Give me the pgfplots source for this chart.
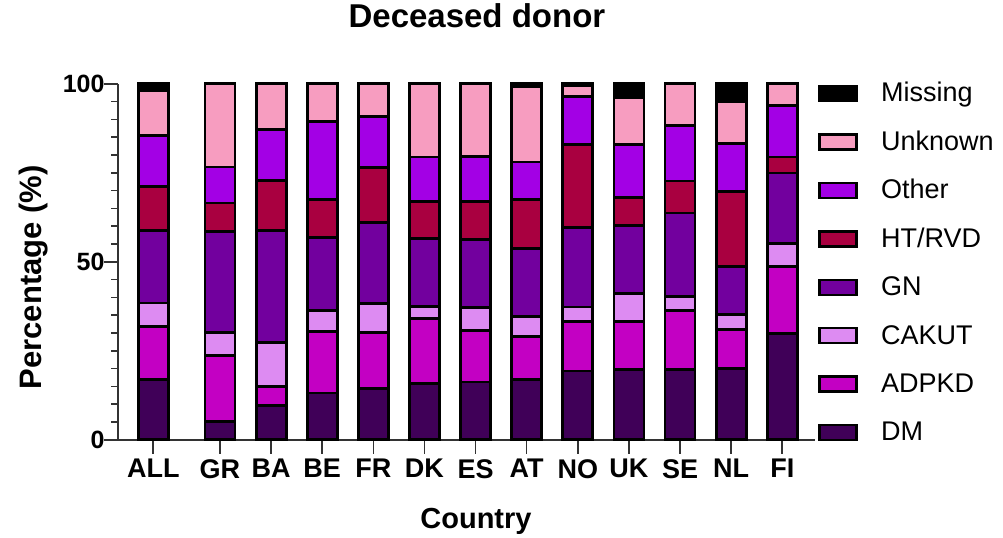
\documentclass[border=0pt]{standalone}
\usepackage{pgfplots}
\pgfplotsset{compat=1.18}
\usepackage{pgfplotstable}
\usepackage{fontspec}
\setmainfont{Liberation Sans}
\definecolor{cDM}{HTML}{400058}
\definecolor{cADPKD}{HTML}{C300C3}
\definecolor{cCAKUT}{HTML}{DD8BF2}
\definecolor{cGN}{HTML}{72009E}
\definecolor{cHT}{HTML}{A90040}
\definecolor{cOther}{HTML}{A300E5}
\definecolor{cUnknown}{HTML}{F79DC0}
\definecolor{cMissing}{HTML}{000000}
\definecolor{axgray}{HTML}{333333}

\pgfplotstableread{
x      DM   ADPKD CAKUT GN   HT   Other Unknown Missing
0      16.9 14.8  6.7   20.4 12.4 14.3  12.6    1.9
1.305  5.2  18.5  6.4   28.5 7.9  10.1  23.4    0
2.305  9.7  5.3   12.2  31.6 14.0 14.3  12.9    0
3.305  13.1 17.3  5.9   20.6 10.5 22.0  10.6    0
4.305  14.3 15.9  8.0   22.9 15.3 14.4  9.2     0
5.305  15.9 18.1  3.5   19.0 10.5 12.4  20.6    0
6.305  16.2 14.5  6.4   19.1 10.8 12.6  20.4    0
7.305  16.9 12.1  5.6   19.1 13.7 10.6  21.2    0.8
8.305  19.3 14.0  4.0   22.4 23.2 13.5  3.1     0.5
9.305  19.7 13.6  7.7   19.2 7.8  14.9  13.2    3.9
10.305 19.7 16.6  4.0   23.4 9.0  15.6  11.7    0
11.305 19.9 11.0  4.3   13.5 21.0 13.6  11.8    4.9
12.305 29.8 18.9  6.4   19.8 4.5  14.5  6.1     0
}\datatable

\pgfplotsset{mylegend/.style={legend image code/.code={%
  \draw[##1,line width=2.4bp] (0bp,-6.2bp) rectangle (36.7bp,8.8bp);
  \path (60bp,0bp);}}}

\begin{document}
\begin{tikzpicture}
\path (-118bp,-94.5bp) rectangle (885bp,436.5bp);
\begin{axis}[
  at={(0,0)}, anchor=south west,
  scale only axis, width=697bp, height=356bp,
  xmin=-0.69, xmax=12.945, ymin=0, ymax=100,
  clip=false,
  ybar stacked, bar width=30bp,
  axis x line*=bottom, axis y line*=left,
  axis line style={draw=axgray, line width=1.6bp, -},
  tick style={draw=axgray, line width=1.6bp},
  tick align=outside,
  major tick length=14bp, minor tick length=7bp,
  xtick={0,1.305,2.305,3.305,4.305,5.305,6.305,7.305,8.305,9.305,10.305,11.305,12.305},
  xticklabels={ALL,GR,BA,BE,FR,DK,ES,AT,NO,UK,SE,NL,FI},
  ytick={0,50,100}, minor y tick num=9,
  /pgf/number format/assume math mode=true,
  xticklabel style={font=\fontsize{27bp}{30bp}\selectfont\bfseries, yshift=-2bp},
  yticklabel style={font=\fontsize{25bp}{28bp}\selectfont\bfseries, xshift=4bp},
  title={Deceased donor},
  title style={at={(0.515,1.1419)}, anchor=base, font=\fontsize{33bp}{36bp}\selectfont\bfseries},
  xlabel={Country},
  xlabel style={at={(0.5136,-0.2486)}, anchor=base, font=\fontsize{29bp}{32bp}\selectfont\bfseries},
  ylabel={Percentage (\%)},
  ylabel style={at={(-0.1095,0.456)}, anchor=base, font=\fontsize{31bp}{34bp}\selectfont\bfseries},
  every axis plot/.append style={draw=black, line width=2.8bp},
  reverse legend,
  legend cell align=left,
  legend style={draw=none, fill=none, at={(1.0047,1.0062)}, anchor=north west,
    inner sep=0pt, font=\fontsize{27bp}{30bp}\selectfont,
    nodes={inner sep=0pt, text height=20bp, text depth=6bp},
    row sep=22.46bp},
]
\addplot[fill=cDM, mylegend] table[x=x,y=DM]{\datatable};
\addlegendentry{DM}
\addplot[fill=cADPKD, mylegend] table[x=x,y=ADPKD]{\datatable};
\addlegendentry{ADPKD}
\addplot[fill=cCAKUT, mylegend] table[x=x,y=CAKUT]{\datatable};
\addlegendentry{CAKUT}
\addplot[fill=cGN, mylegend] table[x=x,y=GN]{\datatable};
\addlegendentry{GN}
\addplot[fill=cHT, mylegend] table[x=x,y=HT]{\datatable};
\addlegendentry{HT/RVD}
\addplot[fill=cOther, mylegend] table[x=x,y=Other]{\datatable};
\addlegendentry{Other}
\addplot[fill=cUnknown, mylegend] table[x=x,y=Unknown]{\datatable};
\addlegendentry{Unknown}
\addplot[fill=cMissing, mylegend] table[x=x,y=Missing]{\datatable};
\addlegendentry{Missing}
\end{axis}
\end{tikzpicture}
\end{document}
